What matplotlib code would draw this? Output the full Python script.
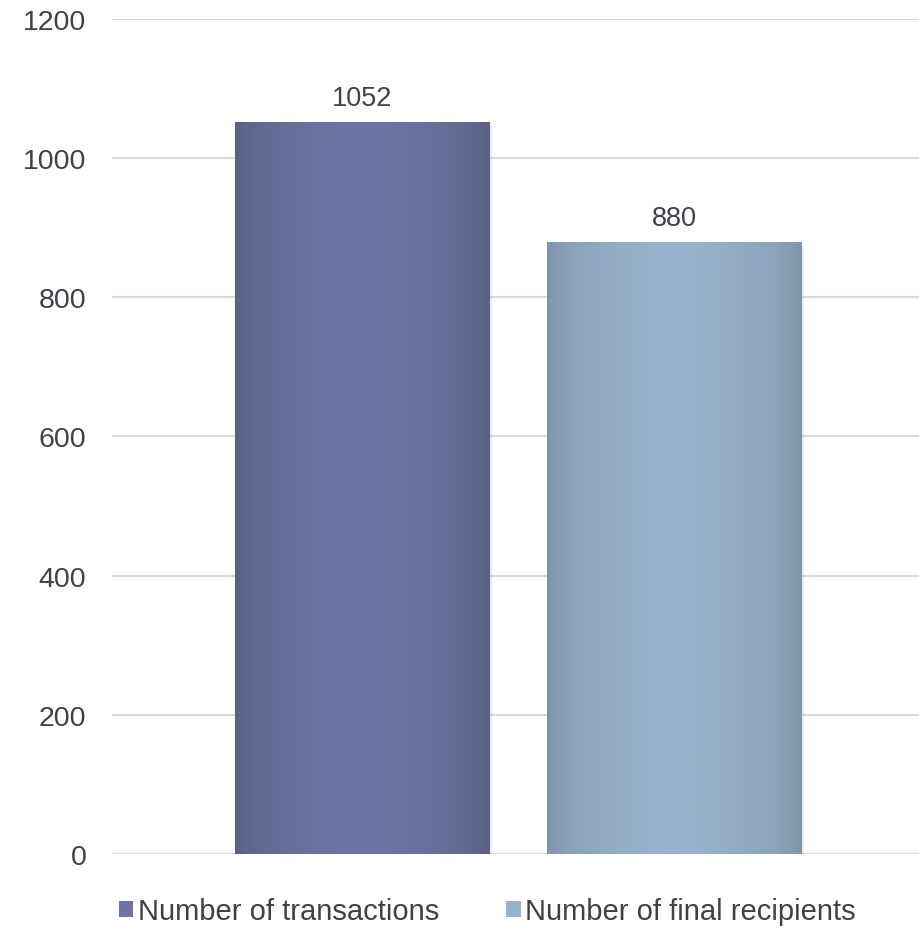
import numpy as np
import matplotlib
matplotlib.use('Agg')
import matplotlib.pyplot as plt
from matplotlib.colors import LinearSegmentedColormap
from matplotlib.patches import Patch

# Chart data
categories = ['']
series_names = ['Number of transactions', 'Number of final recipients']
series_values = [[1052], [880]]
y_ticks = [0, 200, 400, 600, 800, 1000, 1200]

# Styles
edge_colors = ['#586082', '#7d93a8']  # darker edges of the bar gradient
mid_colors = ['#6b74a2', '#97b2cc']   # lighter middle of the bar gradient
bar_width = 0.313
group_offset = 0.192
text_color = '#404048'
grid_color = '#d9d9d9'

plt.rcParams['font.family'] = ['Liberation Sans', 'DejaVu Sans']

fig = plt.figure(figsize=(9.19, 9.29), dpi=100)
ax = fig.add_axes([0.1219, 0.0797, 0.8836, 0.8988])

x = np.arange(len(categories))
offsets = [-group_offset, group_offset]
gradient_profile = np.sin(np.linspace(0, np.pi, 256)) ** 0.6
gradient = gradient_profile.reshape(1, -1)

for i, name in enumerate(series_names):
    bars = ax.bar(x + offsets[i], series_values[i], width=bar_width,
                  color=mid_colors[i], zorder=3, linewidth=0)
    cmap = LinearSegmentedColormap.from_list('g%d' % i, [edge_colors[i], mid_colors[i]])
    for b, v in zip(bars, series_values[i]):
        # soft shadow under the bar
        ax.bar(b.get_x() + b.get_width() / 2 + 0.004, v, width=bar_width,
               bottom=-6, color='#000000', alpha=0.08, zorder=2, linewidth=0)
        im = ax.imshow(gradient, cmap=cmap, aspect='auto', zorder=4,
                       extent=[b.get_x(), b.get_x() + b.get_width(), 0, v],
                       interpolation='bilinear')
        im.set_clip_path(b)
        ax.annotate(str(v), (b.get_x() + b.get_width() / 2, v),
                    xytext=(0, 8), textcoords='offset points',
                    ha='center', va='bottom', fontsize=19.5, color=text_color, zorder=5)

ax.set_xlim(-0.5, 0.5)
ax.set_ylim(0, 1200)
ax.set_yticks(y_ticks)
ax.set_xticks([])
ax.tick_params(axis='y', length=0, pad=18.5, labelsize=20.5, labelcolor=text_color)
ax.yaxis.grid(True, color=grid_color, linewidth=1.5, zorder=0)
ax.set_axisbelow(True)
for s in ax.spines.values():
    s.set_visible(False)
ax.axhline(0, color=grid_color, linewidth=1.5, zorder=1)

handles = [Patch(facecolor=mid_colors[i], edgecolor='none') for i in range(len(series_names))]
fig.legend(handles, series_names, loc='center', bbox_to_anchor=(0.53, 0.018),
           ncol=2, frameon=False, fontsize=21, labelcolor=text_color,
           handlelength=0.5, handleheight=0.5, handletextpad=0.15, columnspacing=2.3)

fig.savefig('out.png', dpi=100)
